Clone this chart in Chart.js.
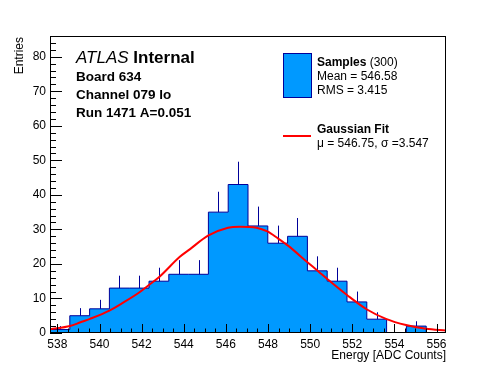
<!DOCTYPE html>
<html>
<head>
<meta charset="utf-8">
<title>Energy histogram</title>
<script src="https://cdn.jsdelivr.net/npm/chart.js@4.4.1/dist/chart.umd.min.js"></script>
<style>
    body { margin: 0; background: #fff; }
    canvas { display: block; }
</style>
</head>
<body>
<canvas id="energyChart" width="496" height="372"></canvas>
<script>
// histogram bins (ADC counts)
const binEdges = [537.65, 538.59, 539.53, 540.47, 541.41, 542.35, 543.29, 544.23, 545.17, 546.11,
    547.05, 547.99, 548.93, 549.87, 550.81, 551.75, 552.69, 553.63, 554.57, 555.51, 556.45];
const counts = [1, 5, 7, 13, 13, 15, 17, 17, 35, 43, 31, 26, 28, 18, 15, 9, 4, 0, 2, 0];
const errors = [1, 2.2, 2.6, 3.6, 3.6, 3.9, 4.1, 4.1, 5.9, 6.6, 5.6, 5.1, 5.3, 4.2, 3.9, 3, 2, 0, 1.4, 0];

// gaussian fit curve, sampled from the red line
const fitX = [537.65, 538.6, 539.1, 539.55, 540.47, 541.1, 541.9, 542.3, 542.85, 543.8, 544.3, 545.15,
    546.1, 546.65, 547.45, 547.97, 548.47, 548.95, 549.87, 550.38, 550.8, 551.75, 552.7, 553.6,
    554.55, 555.5, 556.45];
const fitY = [1.1, 2.0, 3.1, 4.1, 6.5, 8.7, 11.8, 13.7, 16.3, 22.0, 24.3, 28.2,
    30.5, 30.8, 30.5, 29.4, 27.4, 25.3, 20.5, 17.9, 15.7, 11.0, 6.8, 4.1,
    2.3, 1.2, 0.7];

const xTickLabels = [538, 540, 542, 544, 546, 548, 550, 552, 554, 556];
const yTickLabels = [0, 10, 20, 30, 40, 50, 60, 70, 80];
const yMax = 86;

const FONT = 'Liberation Sans, Arial, Helvetica, sans-serif';
const FILL_BLUE = '#0099ff';
const LINE_BLUE = '#000099';

const histPoints = binEdges.map((e, i) => ({ x: e, y: counts[Math.min(i, counts.length - 1)] }));
const fitPoints = fitX.map((x, i) => ({ x: x, y: fitY[i] }));

// ROOT-ish look: frame, inward ticks, titles, text and legend
const rootStyle = {
    id: 'rootStyle',
    afterDatasetDraw(chart, args) {
        if (args.index !== 1) return;
        const xs = chart.scales.x, ys = chart.scales.y;
        const c = chart.ctx;
        c.save();
        c.strokeStyle = LINE_BLUE;
        c.lineWidth = 1;
        counts.forEach((n, i) => {
            if (!errors[i]) return;
            const px = Math.round(xs.getPixelForValue((binEdges[i] + binEdges[i + 1]) / 2)) + 0.5;
            c.beginPath();
            c.moveTo(px, ys.getPixelForValue(n));
            c.lineTo(px, ys.getPixelForValue(n + errors[i]));
            c.stroke();
        });
        c.restore();
    },
    afterDraw(chart) {
        const c = chart.ctx;
        const a = chart.chartArea;
        const xs = chart.scales.x, ys = chart.scales.y;
        c.save();
        c.strokeStyle = '#000';
        c.lineWidth = 1;
        c.strokeRect(Math.round(a.left) + 0.5, Math.round(a.top) + 0.5,
            Math.round(a.right - a.left) - 1, Math.round(a.bottom - a.top) - 1);

        // x ticks: major every 2, minor every 0.5
        c.beginPath();
        for (let v = 538; v <= 556.001; v += 0.5) {
            const px = Math.round(xs.getPixelForValue(v)) + 0.5;
            const len = (Math.abs(v % 2) < 0.01) ? 9 : 4.5;
            c.moveTo(px, a.bottom);
            c.lineTo(px, a.bottom - len);
        }
        // y ticks: major every 10, minor every 2
        for (let v = 0; v <= yMax; v += 2) {
            const py = Math.round(ys.getPixelForValue(v)) + 0.5;
            const len = (v % 10 === 0) ? 12 : 6;
            c.moveTo(a.left, py);
            c.lineTo(a.left + len, py);
        }
        c.stroke();

        // axis titles
        c.fillStyle = '#000';
        c.font = '12px ' + FONT;
        c.textAlign = 'right';
        c.textBaseline = 'alphabetic';
        c.fillText('Energy [ADC Counts]', a.right, 359);
        c.save();
        c.translate(23, a.top + 1);
        c.rotate(-Math.PI / 2);
        c.fillText('Entries', 0, 0);
        c.restore();

        // label block
        c.textAlign = 'left';
        c.font = 'italic 17px ' + FONT;
        c.fillText('ATLAS', 76, 63);
        const w = c.measureText('ATLAS ').width;
        c.font = 'bold 17px ' + FONT;
        c.fillText('Internal', 76 + w, 63);
        c.font = 'bold 13.5px ' + FONT;
        c.fillText('Board 634', 76, 81);
        c.fillText('Channel 079 lo', 76, 99);
        c.fillText('Run 1471 A=0.051', 76, 117);

        // legend
        c.fillStyle = FILL_BLUE;
        c.fillRect(283, 53, 28, 44);
        c.strokeStyle = LINE_BLUE;
        c.strokeRect(283.5, 53.5, 28, 44);
        c.strokeStyle = '#ff0000';
        c.lineWidth = 2;
        c.beginPath();
        c.moveTo(283, 136);
        c.lineTo(311, 136);
        c.stroke();

        c.fillStyle = '#000';
        c.font = 'bold 12px ' + FONT;
        c.fillText('Samples', 317, 66);
        const sw = c.measureText('Samples ').width;
        c.font = '12px ' + FONT;
        c.fillText('(300)', 317 + sw, 66);
        c.fillText('Mean = 546.58', 317, 80);
        c.fillText('RMS = 3.415', 317, 94);
        c.font = 'bold 12px ' + FONT;
        c.fillText('Gaussian Fit', 317, 133);
        c.font = '12px ' + FONT;
        c.fillText('\u03bc = 546.75, \u03c3 =3.547', 317, 147);
        c.restore();
    }
};

const ctx = document.getElementById('energyChart');

new Chart(ctx, {
    type: 'line',
    data: {
        datasets: [{
            label: 'Gaussian Fit',
            data: fitPoints,
            borderColor: '#ff0000',
            borderWidth: 2,
            pointRadius: 0,
            fill: false,
            cubicInterpolationMode: 'monotone',
            order: 1
        }, {
            label: 'Samples',
            data: histPoints,
            stepped: 'before',   // horizontal first, at the bin's own count
            borderColor: LINE_BLUE,
            borderWidth: 1,
            backgroundColor: FILL_BLUE,
            fill: 'origin',
            pointRadius: 0,
            order: 2
        }]
    },
    options: {
        responsive: false,
        animation: false,
        layout: { padding: { left: 0, right: 50, top: 36, bottom: 0 } },
        plugins: {
            legend: { display: false },
            tooltip: { enabled: false }
        },
        scales: {
            x: {
                type: 'linear',
                min: binEdges[0],
                max: binEdges[binEdges.length - 1],
                grid: { display: false, drawTicks: false },
                border: { display: false },
                ticks: { padding: 4, color: '#000', maxRotation: 0, autoSkip: false, font: { family: FONT, size: 12 } },
                afterBuildTicks: (s) => { s.ticks = xTickLabels.map(v => ({ value: v })); },
                afterFit: (s) => { s.height = 39; }
            },
            y: {
                min: 0,
                max: yMax,
                grid: { display: false, drawTicks: false },
                border: { display: false },
                ticks: { padding: 4, color: '#000', font: { family: FONT, size: 12 } },
                afterBuildTicks: (s) => { s.ticks = yTickLabels.map(v => ({ value: v })); },
                afterFit: (s) => { s.width = 50; }
            }
        }
    },
    plugins: [rootStyle]
});
</script>
</body>
</html>
